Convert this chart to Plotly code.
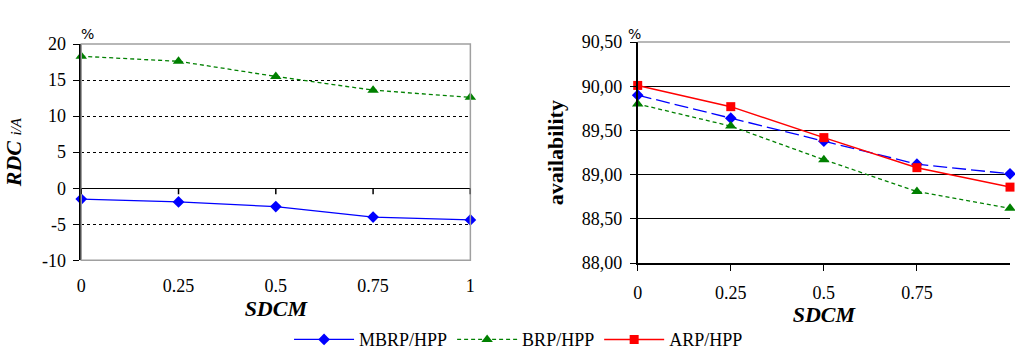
import plotly.graph_objects as go

sdcm = [0, 0.25, 0.5, 0.75, 1]
x_ticks_left = [0, 0.25, 0.5, 0.75, 1]
x_ticks_right = [0, 0.25, 0.5, 0.75]
x_tick_text_left = ["0", "0.25", "0.5", "0.75", "1"]
x_tick_text_right = ["0", "0.25", "0.5", "0.75"]

rdc_mbrp = [-1.5, -1.9, -2.55, -4.0, -4.4]
rdc_brp = [18.3, 17.6, 15.5, 13.6, 12.6]

av_mbrp = [89.90, 89.64, 89.38, 89.12, 89.01]
av_brp = [89.80, 89.55, 89.17, 88.81, 88.62]
av_arp = [90.01, 89.77, 89.42, 89.08, 88.86]

left_y_ticks = [-10, -5, 0, 5, 10, 15, 20]
left_y_text = ["-10", "-5", "0", "5", "10", "15", "20"]
right_y_ticks = [88.0, 88.5, 89.0, 89.5, 90.0, 90.5]
right_y_text = ["88,00", "88,50", "89,00", "89,50", "90,00", "90,50"]

W, H = 1015, 361
SERIF = "'Liberation Serif', 'Times New Roman', Times, serif"
BLUE = "#0000ff"
GREEN = "#008000"
RED = "#ff0000"

def px(v):
    return v / W

def py(v):
    return (H - v) / H

fig = go.Figure()

# Left chart
fig.add_trace(go.Scatter(x=sdcm, y=rdc_mbrp, mode="lines+markers", name="MBRP/HPP",
                         legendgroup="mbrp", line=dict(color=BLUE, width=1.3),
                         marker=dict(symbol="diamond", size=9, color=BLUE),
                         xaxis="x", yaxis="y", cliponaxis=False))
fig.add_trace(go.Scatter(x=sdcm, y=rdc_brp, mode="lines+markers", name="BRP/HPP",
                         legendgroup="brp", line=dict(color=GREEN, width=1.3, dash="4px,3px"),
                         marker=dict(symbol="triangle-up", size=10, color=GREEN),
                         xaxis="x", yaxis="y", cliponaxis=False))
# Right chart
fig.add_trace(go.Scatter(x=sdcm, y=av_mbrp, mode="lines+markers", name="MBRP/HPP",
                         legendgroup="mbrp", showlegend=False,
                         line=dict(color=BLUE, width=1.3, dash="14px,5px"),
                         marker=dict(symbol="diamond", size=9, color=BLUE),
                         xaxis="x2", yaxis="y2", cliponaxis=False))
fig.add_trace(go.Scatter(x=sdcm, y=av_brp, mode="lines+markers", name="BRP/HPP",
                         legendgroup="brp", showlegend=False,
                         line=dict(color=GREEN, width=1.3, dash="4px,3px"),
                         marker=dict(symbol="triangle-up", size=10, color=GREEN),
                         xaxis="x2", yaxis="y2", cliponaxis=False))
fig.add_trace(go.Scatter(x=sdcm, y=av_arp, mode="lines+markers", name="ARP/HPP",
                         legendgroup="arp", line=dict(color=RED, width=1.5),
                         marker=dict(symbol="square", size=9, color=RED),
                         xaxis="x2", yaxis="y2", cliponaxis=False))

tickfont = dict(family=SERIF, size=18, color="black")
titlefont = dict(family=SERIF, size=22, color="black")

L0, L1 = 77, 470
LT, LB = 36, 265
R0, R1 = 639, 1015
RT, RB = 34, 268

shapes = []
# left frame (gray) top/right/bottom
shapes.append(dict(type="rect", xref="paper", yref="paper", x0=px(L0), x1=px(L1),
                   y0=py(LB), y1=py(LT), line=dict(color="#a0a0a0", width=1.5), layer="above"))
# left x tick marks at zero line
for xv in x_ticks_left:
    shapes.append(dict(type="line", xref="x", yref="y",
                       x0=xv, x1=xv, y0=0, y1=-0.85, line=dict(color="black", width=1.5),
                       layer="above"))
# right top line gray
shapes.append(dict(type="line", xref="paper", yref="paper", x0=px(R0), x1=1,
                   y0=py(RT), y1=py(RT), line=dict(color="#a0a0a0", width=1.5), layer="above"))

fig.update_layout(
    width=W, height=H,
    margin=dict(l=0, r=0, t=0, b=0),
    paper_bgcolor="white", plot_bgcolor="white",
    font=dict(family=SERIF, size=18, color="black"),
    xaxis=dict(domain=[px(L0), px(L1)], range=[0, 1], tickvals=x_ticks_left,
               ticktext=x_tick_text_left, showgrid=False, zeroline=False, showline=False,
               ticks="", ticklabelstandoff=13, tickfont=tickfont,
               title=dict(text="<b><i>SDCM</i></b>", font=titlefont, standoff=4),
               anchor="y"),
    yaxis=dict(domain=[py(LB), py(LT)], range=[-10, 20], tickvals=left_y_ticks,
               ticktext=left_y_text,
               showgrid=True, gridcolor="black", griddash="dot", gridwidth=1,
               zeroline=True, zerolinecolor="black", zerolinewidth=1.3,
               showline=True, linecolor="black", linewidth=1.5,
               ticks="outside", ticklen=6, tickcolor="black", tickwidth=1.2,
               ticklabelstandoff=4, tickfont=tickfont,
               title=dict(text="<b><i>RDC</i></b> <i><span style='font-size:15px'>i/A</span></i>",
                          font=titlefont, standoff=14),
               anchor="x"),
    xaxis2=dict(domain=[px(R0), 1.0], range=[0, 1], tickvals=x_ticks_right,
                ticktext=x_tick_text_right, showgrid=False, zeroline=False,
                showline=True, linecolor="black", linewidth=1.5,
                ticks="outside", ticklen=6, tickcolor="black", tickwidth=1.2,
                ticklabelstandoff=6, tickfont=tickfont,
                title=dict(text="<b><i>SDCM</i></b>", font=titlefont, standoff=4),
                anchor="y2"),
    yaxis2=dict(domain=[py(RB), py(RT)], range=[88.0, 90.5], tickvals=right_y_ticks,
                ticktext=right_y_text, showgrid=True, gridcolor="black", gridwidth=1.2,
                zeroline=False, showline=True, linecolor="black", linewidth=1.5,
                ticks="outside", ticklen=6, tickcolor="black", tickwidth=1.2,
                ticklabelstandoff=4, tickfont=tickfont,
                title=dict(text="<b>availability</b>", font=titlefont, standoff=12),
                anchor="x2"),
    legend=dict(orientation="h", x=0.511, xanchor="center", y=0.033, yanchor="middle",
                font=dict(family=SERIF, size=18, color="black"),
                itemwidth=60, tracegroupgap=0, bgcolor="rgba(0,0,0,0)"),
    shapes=shapes,
    annotations=[
        dict(text="%", xref="paper", yref="paper", x=px(75), y=py(15), showarrow=False,
             font=dict(family="DejaVu Sans", size=14, color="black")),
        dict(text="%", xref="paper", yref="paper", x=px(636), y=py(15), showarrow=False,
             font=dict(family="DejaVu Sans", size=14, color="black")),
    ],
)

fig.write_html("out.html")
